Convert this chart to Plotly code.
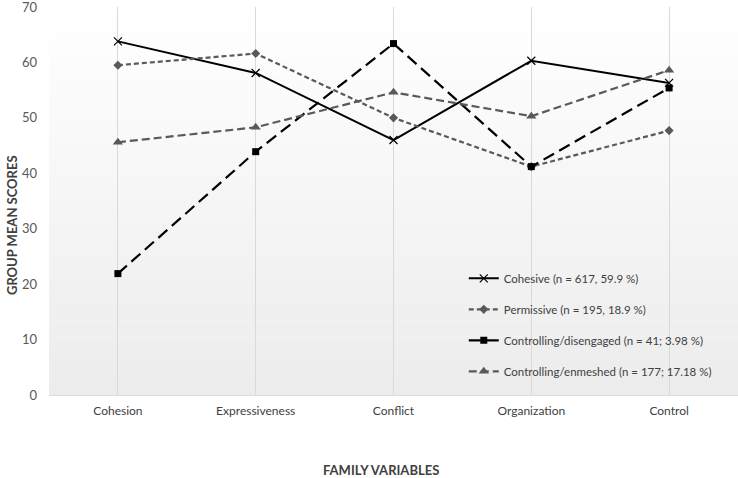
import plotly.graph_objects as go

categories = ["Cohesion", "Expressiveness", "Conflict", "Organization", "Control"]
cohesive = [63.8, 58.1, 46.0, 60.3, 56.3]
permissive = [59.5, 61.6, 50.0, 41.2, 47.7]
ctrl_diseng = [21.9, 43.9, 63.4, 41.2, 55.4]
ctrl_enmesh = [45.6, 48.3, 54.6, 50.3, 58.6]

series_names = [
    "Cohesive (n = 617, 59.9 %)",
    "Permissive (n = 195, 18.9 %)",
    "Controlling/disengaged (n = 41; 3.98 %)",
    "Controlling/enmeshed (n = 177; 17.18 %)",
]
y_ticks = [0, 10, 20, 30, 40, 50, 60, 70]
x_title = "FAMILY VARIABLES"
y_title = "GROUP MEAN SCORES"

fig = go.Figure()

fig.add_trace(go.Scatter(
    x=categories, y=cohesive, name=series_names[0], mode="lines+markers",
    line=dict(color="#000000", width=2),
    marker=dict(symbol="x-thin", size=8, color="#000000", line=dict(color="#000000", width=1.2)),
    legendgroup="a"))
fig.add_trace(go.Scatter(
    x=categories, y=permissive, name=series_names[1], mode="lines+markers",
    line=dict(color="#595959", width=2.2, dash="5px,3px"),
    marker=dict(symbol="diamond", size=7, color="#595959"),
    legendgroup="b"))
fig.add_trace(go.Scatter(
    x=categories, y=ctrl_diseng, name=series_names[2], mode="lines+markers",
    line=dict(color="#000000", width=2.2, dash="12px,6px"),
    marker=dict(symbol="square", size=7, color="#000000"),
    legendgroup="c"))
fig.add_trace(go.Scatter(
    x=categories, y=ctrl_enmesh, name=series_names[3], mode="lines+markers",
    line=dict(color="#595959", width=2.2, dash="8px,4px"),
    marker=dict(symbol="triangle-up", size=9, color="#595959"),
    legendgroup="d"))

# gradient background for plot area
shapes = []
N = 60
top = (255, 255, 255)
bot = (236, 236, 236)
for i in range(N):
    t = i / (N - 1)
    c = tuple(int(round(top[k] + (bot[k] - top[k]) * t)) for k in range(3))
    shapes.append(dict(type="rect", xref="paper", yref="paper",
                       x0=0, x1=1, y0=1 - (i + 1) / N, y1=1 - i / N + 0.001,
                       fillcolor="rgb(%d,%d,%d)" % c, line=dict(width=0), layer="below"))

annotations = [
    dict(text="<b>%s</b>" % x_title, xref="paper", yref="paper", x=0.482, y=-0.193,
         xanchor="center", yanchor="middle", showarrow=False,
         font=dict(size=13, color="#404040")),
    dict(text="<b>%s</b>" % y_title, xref="paper", yref="paper", x=-0.0537, y=0.438,
         xanchor="center", yanchor="middle", showarrow=False, textangle=-90,
         font=dict(size=13, color="#404040")),
]

fig.update_layout(
    width=738, height=478,
    margin=dict(l=49, r=0, t=7, b=83, autoexpand=False),
    paper_bgcolor="#ffffff",
    plot_bgcolor="#ffffff",
    font=dict(family="Lato, Open Sans, sans-serif", size=11, color="#595959"),
    shapes=shapes,
    annotations=annotations,
    showlegend=True,
    legend=dict(x=0.602, y=0.338, xanchor="left", yanchor="top",
                bgcolor="rgba(0,0,0,0)", tracegroupgap=12,
                font=dict(size=11.5, color="#404040"), itemwidth=30),
    xaxis=dict(range=[-0.5, 4.5], automargin=False,
               showgrid=True, gridcolor="#d9d9d9", gridwidth=1,
               showline=True, linecolor="#d9d9d9", linewidth=1,
               ticks="", tickfont=dict(size=12, color="#404040"),
               ticklabelstandoff=5),
    yaxis=dict(range=[0, 70], tickvals=y_ticks, showgrid=False, zeroline=False,
               automargin=False, ticklabeloverflow="allow",
               showline=False, ticks="", tickfont=dict(size=13, color="#595959"),
               ticklabelstandoff=11),
)

fig.write_html("out.html", config={"displayModeBar": False},
               post_script="document.body.style.margin='0';document.body.style.padding='0';")
